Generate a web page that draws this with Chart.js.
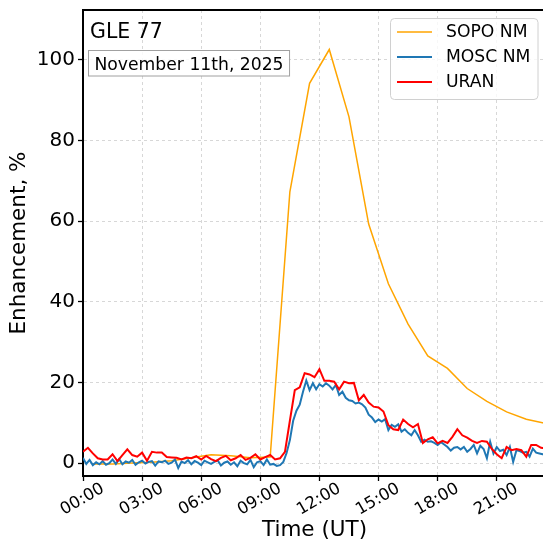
<!DOCTYPE html>
<html><head><meta charset="utf-8">
<script src="https://cdn.jsdelivr.net/npm/chart.js@4.4.1/dist/chart.umd.min.js"></script>
<style>
html,body{margin:0;padding:0;overflow:hidden;background:#fff;width:543px;height:541px}
#wrap{position:absolute;left:0;top:0;width:560px;height:541px}
</style>
</head><body><div id="wrap"><canvas id="c" width="560" height="541"></canvas></div>
<script>
// ---- data ----
const xTickHours = [0, 3, 6, 9, 12, 15, 18, 21];
const yTickValues = [0, 20, 40, 60, 80, 100];
const seriesLabels = ['SOPO NM', 'MOSC NM', 'URAN'];

const sopoHours = [0.5,1.5,2.5,3.5,4.5,5.5,6.5,7.5,8.5,9.5,10.5,11.5,12.5,13.5,14.5,15.5,16.5,17.5,18.5,19.5,20.5,21.5,22.5,23.5];
const sopoValues = [-0.2,-0.2,0.0,0.2,0.6,1.3,2.1,1.8,1.3,1.5,67.3,94.2,102.6,85.9,59.3,44.5,34.5,26.6,23.5,18.5,15.3,12.7,10.9,9.8];

const moscStepHours = 1/6; // 10-minute samples from 00:00
const moscValues = [
 1.3,-0.2,0.8,-0.5,0.2,-0.3,0.5,-0.4,0.0,0.9,-0.2,1.0,
 -0.3,0.4,0.1,0.8,-0.4,0.2,0.6,-0.1,0.3,0.5,-0.6,0.4,
 0.2,0.6,-0.2,0.1,0.9,-1.2,0.4,0.0,0.7,-0.3,0.5,0.1,
 -0.5,0.6,0.2,-0.2,0.3,0.7,-0.6,0.1,0.4,-0.4,0.2,-0.8,
 0.6,0.0,-0.3,0.8,-1.0,0.2,0.5,-0.5,0.9,-0.4,-0.2,-0.7,
 -0.5,0.3,2.5,5.7,10.5,13.0,14.5,17.7,20.5,18.1,19.8,18.3,
 19.6,19.0,19.8,19.2,18.3,19.4,16.9,17.7,16.2,15.6,15.4,14.8,
 15.0,14.6,13.8,12.0,11.3,10.2,10.8,10.3,10.9,8.2,9.5,9.0,
 9.6,7.8,8.4,7.5,6.9,8.2,6.9,5.3,5.8,5.3,5.4,5.0,
 4.5,5.2,4.6,4.0,3.1,3.8,4.0,3.4,4.0,2.8,3.5,4.5,
 2.4,4.3,3.5,1.2,5.3,2.4,4.0,3.0,3.3,2.0,4.0,0.3,
 3.2,3.0,2.6,2.8,1.6,3.6,2.6,2.4,2.2,2.0,2.3,2.1
];

const uranStepHours = 0.25; // 15-minute samples from 00:00
const uranValues = [
 2.8,3.8,2.4,1.2,0.9,0.9,2.2,0.5,2.0,3.4,2.0,1.6,
 2.6,0.6,2.8,2.6,2.6,1.5,1.4,1.3,0.9,1.4,1.2,1.7,
 0.9,1.8,1.0,0.5,1.3,1.8,0.7,1.2,2.0,0.8,1.3,2.2,
 0.9,1.5,2.0,0.9,1.2,2.8,10.5,18.1,18.8,22.3,22.0,21.3,
 23.3,20.4,20.4,20.2,18.3,20.2,19.8,19.9,15.6,16.9,15.0,14.0,
 13.8,12.8,9.4,8.4,8.2,10.8,9.7,8.9,9.7,5.0,5.9,6.4,
 4.9,5.5,5.0,6.5,8.4,6.9,6.3,5.5,5.0,5.5,5.3,3.5,
 2.2,1.2,4.0,3.2,3.5,3.2,1.6,4.5,4.5,3.8,3.6,3.5
];

// ---- build ----
const sopoPts = sopoHours.map((h, i) => ({x: h, y: sopoValues[i]}));
const moscPts = moscValues.map((v, i) => ({x: i * moscStepHours, y: v}));
const uranPts = uranValues.map((v, i) => ({x: i * uranStepHours, y: v}));
const colors = ['#FFA500', '#1f77b4', '#FF0000'];
const widths = [1.5, 2, 2];

const FONT = '"DejaVu Sans", Verdana, sans-serif';

const overlay = {
  id: 'overlay',
  afterDraw(chart) {
    const ctx = chart.ctx, a = chart.chartArea;
    ctx.save();
    // top + right spines
    ctx.strokeStyle = '#000'; ctx.lineWidth = 2;
    ctx.beginPath();
    ctx.moveTo(a.left - 1, a.top); ctx.lineTo(a.right, a.top); ctx.lineTo(a.right, a.bottom);
    ctx.stroke();
    // GLE 77
    ctx.fillStyle = '#000';
    ctx.textBaseline = 'alphabetic'; ctx.textAlign = 'left';
    ctx.font = '20.5px ' + FONT;
    ctx.fillText('GLE 77', 90, 38);
    // date box
    ctx.font = '17.2px ' + FONT;
    const dt = 'November 11th, 2025';
    const w = ctx.measureText(dt).width;
    ctx.fillStyle = 'rgba(255,255,255,0.85)';
    ctx.fillRect(88.5, 50.5, w + 12, 25.5);
    ctx.strokeStyle = '#a0a0a0'; ctx.lineWidth = 1;
    ctx.strokeRect(88.5, 50.5, w + 12, 25.5);
    ctx.fillStyle = '#000';
    ctx.fillText(dt, 94.5, 69.5);
    // legend
    const lx = 390.5, ly = 18.5, lw = 147.5, lh = 81;
    ctx.beginPath();
    if (ctx.roundRect) ctx.roundRect(lx, ly, lw, lh, 4); else ctx.rect(lx, ly, lw, lh);
    ctx.fillStyle = 'rgba(255,255,255,0.8)'; ctx.fill();
    ctx.strokeStyle = '#d0d0d0'; ctx.lineWidth = 1; ctx.stroke();
    ctx.font = '17.2px ' + FONT; ctx.textBaseline = 'middle';
    seriesLabels.forEach((lab, i) => {
      const yy = 32 + i * 25;
      ctx.strokeStyle = colors[i]; ctx.lineWidth = widths[i];
      ctx.beginPath(); ctx.moveTo(397, yy); ctx.lineTo(432, yy); ctx.stroke();
      ctx.fillStyle = '#000';
      ctx.fillText(lab, 446, yy + 1);
    });
    ctx.restore();
  }
};

const gridCommon = {
  color: 'rgba(0,0,0,0.2)', lineWidth: 0.8,
  tickColor: '#000', tickLength: 5, tickWidth: 1.3, tickBorderDash: []
};

new Chart(document.getElementById('c'), {
  type: 'line',
  data: {
    datasets: [
      {label: seriesLabels[0], data: sopoPts, borderColor: colors[0], borderWidth: widths[0], pointRadius: 0, tension: 0, order: 3},
      {label: seriesLabels[1], data: moscPts, borderColor: colors[1], borderWidth: widths[1], pointRadius: 0, tension: 0, order: 2},
      {label: seriesLabels[2], data: uranPts, borderColor: colors[2], borderWidth: widths[2], pointRadius: 0, tension: 0, order: 1}
    ]
  },
  options: {
    responsive: false, animation: false,
    layout: {padding: {left: 0, top: 10, right: 14, bottom: 0}},
    plugins: {legend: {display: false}, tooltip: {enabled: false}},
    scales: {
      x: {
        type: 'linear', min: 0, max: 23.5,
        afterBuildTicks: s => { s.ticks = xTickHours.map(v => ({value: v})); },
        afterFit: s => { s.height = 65; s.paddingLeft = 0; s.paddingRight = 0; },
        ticks: {
          autoSkip: false, maxRotation: 30, minRotation: 30, padding: -2, labelOffset: 20, color: '#000',
          font: {family: FONT, size: 16.5},
          callback: v => String(v).padStart(2, '0') + ':00'
        },
        grid: gridCommon,
        border: {color: '#000', width: 2, dash: [3, 3]},
        title: {display: true, text: 'Time (UT)', color: '#000', font: {family: FONT, size: 21.5}, padding: {top: 0, bottom: -2}}
      },
      y: {
        min: -3.2, max: 112.4,
        afterBuildTicks: s => { s.ticks = yTickValues.map(v => ({value: v})); },
        afterFit: s => { s.width = 83; s.paddingTop = 0; s.paddingBottom = 0; },
        ticks: {color: '#000', padding: 3, font: {family: FONT, size: 20}},
        grid: gridCommon,
        border: {color: '#000', width: 2, dash: [3, 3]},
        title: {display: true, text: 'Enhancement, %', color: '#000', font: {family: FONT, size: 21.5}, padding: {top: 7, bottom: 0}}
      }
    }
  },
  plugins: [overlay]
});
</script>
</body></html>
